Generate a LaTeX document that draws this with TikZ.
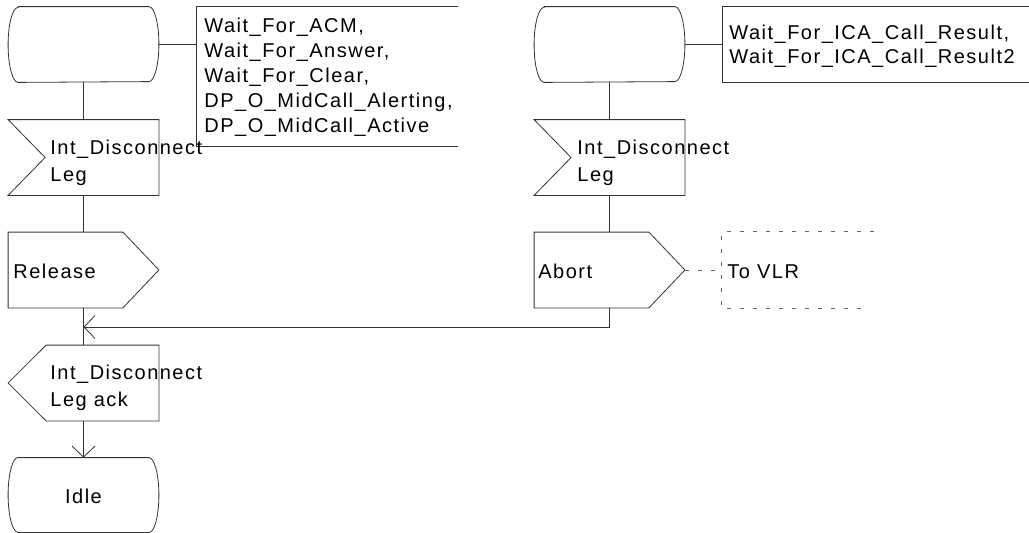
\documentclass[tikz,border=0pt]{standalone}
\usepackage{fontspec}
\setmainfont{Liberation Sans}[LetterSpace=7.5]
\usetikzlibrary{arrows.meta}
\begin{document}
\begin{tikzpicture}[x=1pt,y=-1pt,
  line width=0.8pt, draw=black!80,
  shp/.style={minimum width=150pt, minimum height=75pt, inner sep=0pt, draw=none},
  frame/.style={inner sep=0pt, draw=none},
  lbl/.style={inner sep=0pt, anchor=base west, align=left, font=\fontsize{20}{25}\selectfont},
  arr/.style={-{Straight Barb[length=11pt,width=23pt,line width=0.8pt]}},
  dsh/.style={draw=black!60, dash pattern=on 4pt off 9pt}]
\useasboundingbox (0,0) rectangle (1029,533);

% ---- left column ----
\node[shp] (s1)   at (83.5,44.5) {};
\node[shp] (in1)  at (83.5,157.5) {};
\node[shp] (out1) at (83.5,270) {};
\node[shp] (ack)  at (83.5,383) {};
\node[shp, minimum height=74pt] (idle) at (83.5,495) {};
\node[frame, minimum width=261pt, minimum height=139pt] (b1) at (327.5,76.5) {};

% ---- right column ----
\node[shp] (s2)    at (609.5,44.5) {};
\node[shp] (in2)   at (609.5,157.5) {};
\node[shp] (abort) at (609.5,270) {};
\node[frame, minimum width=307pt, minimum height=75pt] (b2) at (876,44.5) {};
\node[frame, minimum width=151pt, minimum height=76pt] (vlr) at (797.75,270) {};
\coordinate (j) at (83.5,327);

% state symbols
\foreach \n in {s1,s2,idle}
  \draw ([xshift=10pt]\n.north west) -- ([xshift=-10pt]\n.north east)
    arc[start angle=90,end angle=-90,x radius=10pt,y radius=37.5pt]
    -- ([xshift=10pt]\n.south west)
    arc[start angle=270,end angle=90,x radius=10pt,y radius=37.5pt] -- cycle;
% input symbols
\foreach \n in {in1,in2}
  \draw (\n.north west) -- (\n.north east) -- (\n.south east) -- (\n.south west)
    -- ([xshift=37pt]\n.west) -- cycle;
% output symbols (pointing right)
\foreach \n in {out1,abort}
  \draw (\n.north west) -- ([xshift=-36pt]\n.north east) -- (\n.east)
    -- ([xshift=-36pt]\n.south east) -- (\n.south west) -- cycle;
% output symbol (pointing left)
\draw (ack.west) -- ([xshift=38pt]ack.north west) -- (ack.north east)
  -- (ack.south east) -- ([xshift=38pt]ack.south west) -- cycle;
% brackets
\draw (b1.north east) -- (b1.north west) -- (b1.south west) -- (b1.south east);
\draw (b2.north east) -- (b2.north west) -- (b2.south west) -- (b2.south east);
\draw[dsh] (vlr.north east) -- (vlr.north west) -- (vlr.south west) -- ([xshift=-7pt]vlr.south east);

% connectors
\draw (s1.east) -- (s1.east -| b1.west);
\draw (s2.east) -- (s2.east -| b2.west);
\draw (s1.south) -- (in1.north);
\draw (in1.south) -- (out1.north);
\draw (out1.south) -- (ack.north);
\draw[arr] (ack.south) -- (idle.north);
\draw (s2.south) -- (in2.north);
\draw (in2.south) -- (abort.north);
\draw[arr] (abort.south) |- (j);
\draw[dsh] (abort.east) -- (vlr.west);

% texts (base west = baseline of the last line)
\node[lbl] (tb1) at (204,132) {Wait\_For\_ACM,\\Wait\_For\_Answer,\\Wait\_For\_Clear,\\DP\_O\_MidCall\_Alerting,\\DP\_O\_MidCall\_Active};
\node[lbl, font=\fontsize{20}{24}\selectfont] (tb2) at (729,63) {Wait\_For\_ICA\_Call\_Result,\\Wait\_For\_ICA\_Call\_Result2};
\node[lbl, font=\fontsize{20}{27}\selectfont] (tin1) at (50,181) {Int\_Disconnect\\Leg};
\node[lbl, font=\fontsize{20}{27}\selectfont] (tin2) at (577,181) {Int\_Disconnect\\Leg};
\node[lbl] (tout1) at (13,278) {Release};
\node[lbl] (tabort) at (538,278) {Abort};
\node[lbl] (tvlr) at (727,278) {To VLR};
\node[lbl, font=\fontsize{20}{27}\selectfont] (tack) at (50,406) {Int\_Disconnect\\Leg ack};
\node[lbl, anchor=base] (tidle) at (83.5,503) {Idle};
\end{tikzpicture}
\end{document}
